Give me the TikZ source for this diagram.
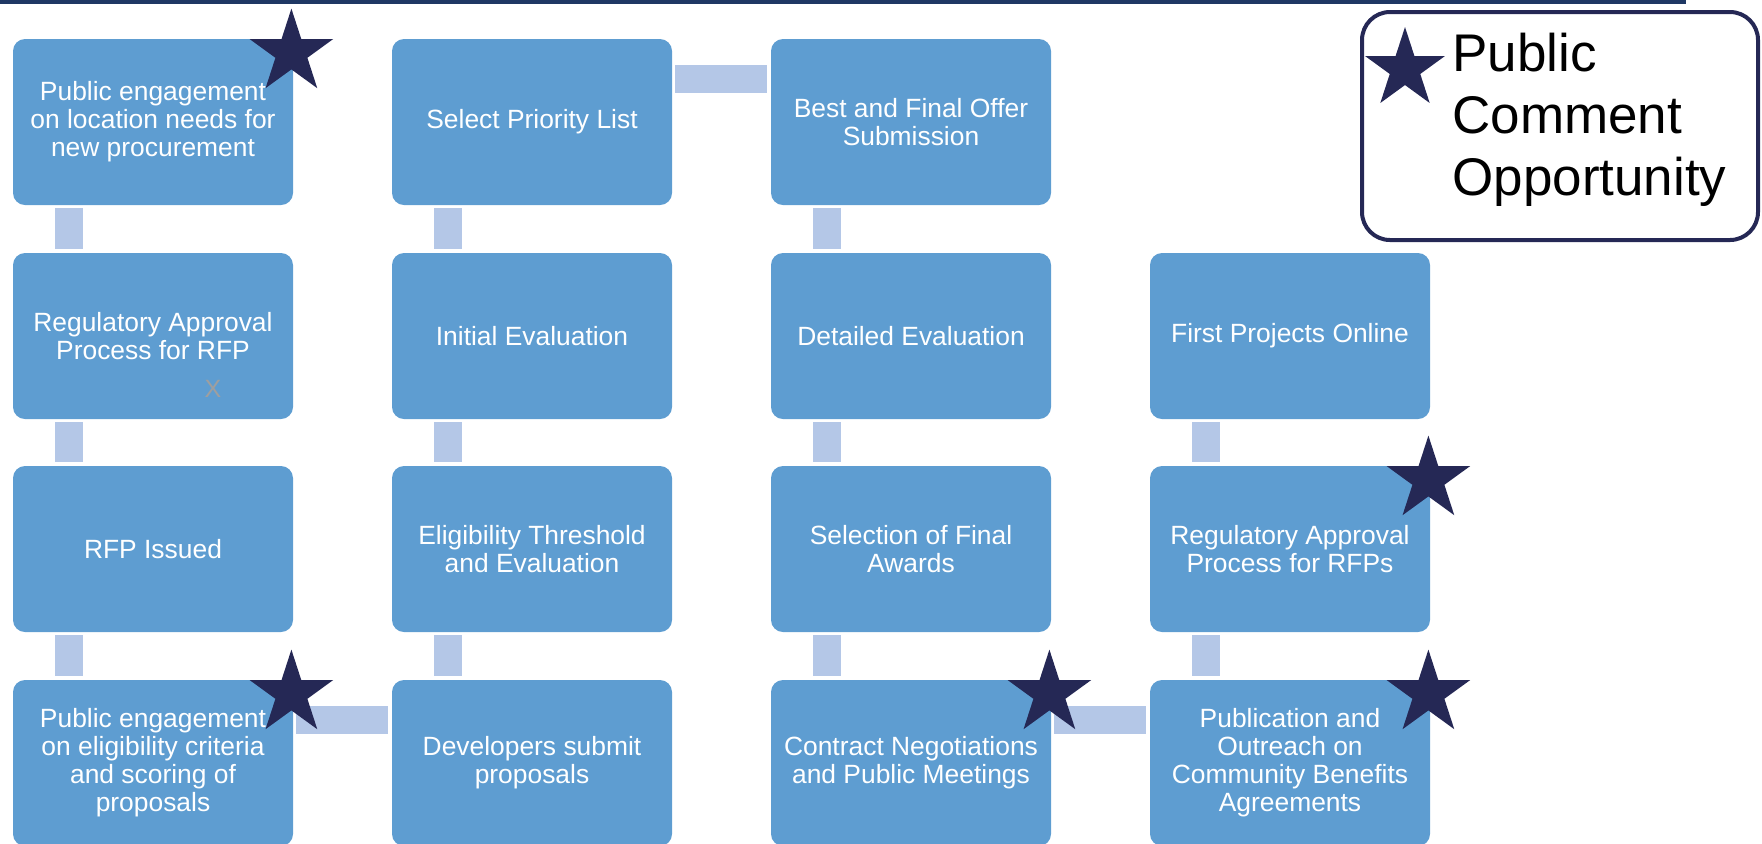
\documentclass[tikz,border=0pt]{standalone}
\usepackage{fontspec}
\setmainfont{Liberation Sans}
\usepackage{tikz}
\usetikzlibrary{shapes}
\usetikzlibrary{calc}
\definecolor{box-blue}{RGB}{94,157,209}
\definecolor{link-blue}{RGB}{180,199,231}
\definecolor{star-navy}{RGB}{37,40,85}
\definecolor{rule-blue}{RGB}{31,56,100}
\tikzstyle{stage}=[fill=box-blue, rounded corners=6pt, minimum width=140pt, minimum height=83pt, inner sep=0pt, text=white, align=center, font=\fontsize{13.2}{14}\selectfont]
\tikzstyle{link}=[link-blue, line width=14pt, shorten <=1.5pt, shorten >=2pt]
\tikzstyle{pstar}=[star, star points=5, star point ratio=2.618, fill=star-navy, minimum size=44pt, inner sep=0pt]

\begin{document}
\begin{tikzpicture}[x=0.5pt,y=-0.5pt]
	\useasboundingbox (0,0) rectangle (1762,843);
	\draw[rule-blue, line width=2pt] (0,2) -- (1686,2);
	\node[stage] (engage) at (153,122) {Public engagement\\on location needs for\\new procurement};
	\node[stage] (regRFP) at (153,336) {Regulatory Approval\\Process for RFP};
	\node[stage] (rfp) at (153,549) {RFP Issued};
	\node[stage] (criteria) at (153,763) {Public engagement\\on eligibility criteria\\and scoring of\\proposals};
	\node[stage] (submit) at (532,763) {Developers submit\\proposals};
	\node[stage] (elig) at (532,549) {Eligibility Threshold\\and Evaluation};
	\node[stage] (initEval) at (532,336) {Initial Evaluation};
	\node[stage] (priority) at (532,122) {Select Priority List};
	\node[stage] (bafo) at (911,122) {Best and Final Offer\\Submission};
	\node[stage] (detEval) at (911,336) {Detailed Evaluation};
	\node[stage] (awards) at (911,549) {Selection of Final\\Awards};
	\node[stage] (contract) at (911,763) {Contract Negotiations\\and Public Meetings};
	\node[stage] (cba) at (1290,763) {Publication and\\Outreach on\\Community Benefits\\Agreements};
	\node[stage] (regRFPs) at (1290,549) {Regulatory Approval\\Process for RFPs};
	\node[stage] (online) at (1290,336) {First Projects Online};
	\node[text=gray!75, font=\fontsize{12.5}{14}\selectfont] (xmark) at (213,389) {X};
	\foreach \a/\b in {engage/regRFP, regRFP/rfp, rfp/criteria, priority/initEval, initEval/elig, elig/submit, bafo/detEval, detEval/awards, awards/contract, online/regRFPs, regRFPs/cba}
		\draw[link] ([xshift=-42pt]\a.south) -- ([xshift=-42pt]\b.north);
	\foreach \a/\b in {criteria/submit, priority/bafo, contract/cba}
		\draw[link] ([yshift=21.5pt]\a.east) -- ([yshift=21.5pt]\b.west);
	\foreach \n in {engage, criteria, contract, cba, regRFPs}
		\node[pstar] (star\n) at ([xshift=-1pt,yshift=-7pt]\n.north east) {};
	\node[draw=star-navy, line width=2pt, rounded corners=14pt, minimum width=198pt, minimum height=114pt] (legend) at (1560,126) {};
	\node[pstar, minimum size=42pt] (keystar) at (1405,69) {};
	\node[anchor=north west, inner sep=0pt, align=left, font=\fontsize{26.5}{31}\selectfont] (keytext) at (1452,33) {Public\\Comment\\Opportunity};
\end{tikzpicture}
\end{document}
